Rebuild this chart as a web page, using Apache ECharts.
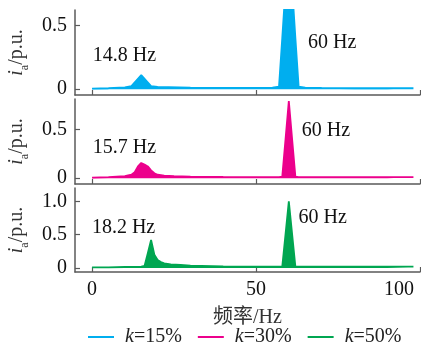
<!DOCTYPE html>
<html><head><meta charset="utf-8">
<script src="https://cdn.jsdelivr.net/npm/echarts@6/dist/echarts.min.js"></script>
<style>html,body{margin:0;padding:0;background:#fff}#c{width:421px;height:349px}</style>
</head><body><div id="c"></div>
<script>
// ---- data ----
const seriesNames = ['k=15%', 'k=30%', 'k=50%'];
const freq15 = [0, 5, 10, 12, 15, 18, 20, 30, 40, 50, 55, 57, 58, 59, 60, 61, 62, 63, 65, 70, 80, 90, 98];
const val15  = [0.005, 0.008, 0.015, 0.025, 0.11, 0.025, 0.018, 0.012, 0.01, 0.01, 0.012, 0.02, 0.4, 0.8, 1.0, 0.8, 0.4, 0.02, 0.012, 0.01, 0.008, 0.008, 0.008];
const freq30 = [0, 5, 10, 12, 13, 14, 15, 16, 17, 18, 19, 20, 22, 25, 30, 40, 50, 57, 58, 59, 60, 61, 62, 63, 70, 80, 90, 98];
const val30  = [0.005, 0.01, 0.02, 0.035, 0.06, 0.12, 0.155, 0.14, 0.12, 0.08, 0.05, 0.035, 0.025, 0.02, 0.015, 0.012, 0.01, 0.01, 0.015, 0.4, 0.79, 0.4, 0.015, 0.01, 0.01, 0.01, 0.01, 0.01];
const freq50 = [0, 5, 10, 15, 16, 17, 18, 19, 20, 21, 22, 24, 27, 30, 40, 50, 57, 58, 59, 60, 61, 62, 63, 70, 80, 90, 98];
const val50  = [0.01, 0.01, 0.015, 0.02, 0.03, 0.22, 0.42, 0.2, 0.12, 0.09, 0.07, 0.055, 0.045, 0.035, 0.025, 0.02, 0.02, 0.02, 0.51, 1.0, 0.51, 0.02, 0.02, 0.02, 0.02, 0.02, 0.02];
const xTicks = [0, 50, 100];
const yTicks1 = [0, 0.5];
const yTicks2 = [0, 0.5];
const yTicks3 = [0, 0.5, 1.0];
const annText = [['14.8 Hz', '60 Hz'], ['15.7 Hz', '60 Hz'], ['18.2 Hz', '60 Hz']];
const annX = [[9.9, 73.2], [9.9, 71.3], [9.6, 70.3]];
const annY = [[0.265, 0.36], [0.31, 0.49], [0.6, 0.75]];

// ---- chart ----
const FONT = '"Liberation Serif", "Times New Roman", "Noto Sans CJK SC", serif';
const AX = '#5a5a5a';
const colors = ['#00AEEF', '#EC008C', '#00A651'];
const freqs = [freq15, freq30, freq50];
const vals = [val15, val30, val50];
const yTicks = [yTicks1, yTicks2, yTicks3];
const yRanges = [[-0.045, 0.62], [-0.06, 0.81], [-0.06, 1.2]];
const grids = [
  {left: 75, right: 1, top: 10, height: 85, containLabel: false, outerBoundsMode: 'none'},
  {left: 75, right: 1, top: 99, height: 85, containLabel: false, outerBoundsMode: 'none'},
  {left: 75, right: 1, top: 188, height: 84, containLabel: false, outerBoundsMode: 'none'}
];
const fmtY = v => (v === 0 ? '0' : v.toFixed(1));

const xAxes = [0, 1, 2].map(i => ({
  type: 'value', gridIndex: i, min: -5.2, max: 100,
  axisLine: {show: true, onZero: false, lineStyle: {color: AX, width: 1.5}},
  axisTick: {show: true, inside: true, length: 5, customValues: xTicks, lineStyle: {color: AX, width: 1.2}},
  axisLabel: {show: i === 2, customValues: xTicks, margin: 8, fontFamily: FONT, fontSize: 20, color: '#111',
    alignMaxLabel: 'right',
    formatter: v => (v === 100 ? '{r|100}' : String(v)),
    rich: {r: {fontFamily: FONT, fontSize: 20, color: '#111', padding: [0, 6, 0, 0]}}},
  splitLine: {show: false},
  name: i === 2 ? '频率/Hz' : '', nameLocation: 'middle', nameGap: 36,
  nameTextStyle: {fontFamily: FONT, fontSize: 20, color: '#333'}
}));

const yAxes = [0, 1, 2].map(i => ({
  type: 'value', gridIndex: i, min: yRanges[i][0], max: yRanges[i][1],
  axisLine: {show: true, onZero: false, lineStyle: {color: AX, width: 1.5}},
  axisTick: {show: true, inside: true, length: 5, customValues: yTicks[i], lineStyle: {color: AX, width: 1.2}},
  axisLabel: {show: true, customValues: yTicks[i], margin: 8, fontFamily: FONT, fontSize: 20, color: '#111', formatter: fmtY},
  splitLine: {show: false},
  name: '{i|i}{s|a}{n|/p.u.}', nameLocation: 'middle', nameGap: 45, nameRotate: 90,
  nameTextStyle: {rich: {
    i: {fontFamily: FONT, fontSize: 20, fontStyle: 'italic', color: '#333', verticalAlign: 'bottom', lineHeight: 24},
    s: {fontFamily: FONT, fontSize: 12, color: '#333', verticalAlign: 'bottom', lineHeight: 24, padding: [0, 0, -4, 0]},
    n: {fontFamily: FONT, fontSize: 20, color: '#333', verticalAlign: 'bottom', lineHeight: 24}
  }}
}));

const series = [0, 1, 2].map(i => ({
  name: seriesNames[i], type: 'line', xAxisIndex: i, yAxisIndex: i,
  data: freqs[i].map((f, j) => [f, vals[i][j]]),
  showSymbol: false, symbol: 'none', clip: true, animation: false,
  lineStyle: {color: colors[i], width: 1.8},
  itemStyle: {color: colors[i]},
  areaStyle: {color: colors[i], opacity: 1},
  markPoint: {
    symbol: 'circle', symbolSize: 0, animation: false,
    label: {show: true, position: 'inside', fontFamily: FONT, fontSize: 20, color: '#111', formatter: p => p.name},
    data: annText[i].map((t, k) => ({name: t, coord: [annX[i][k], annY[i][k]]}))
  }
}));

const chart = echarts.init(document.getElementById('c'), null, {renderer: 'canvas'});
chart.setOption({
  animation: false,
  grid: grids,
  xAxis: xAxes,
  yAxis: yAxes,
  series: series,
  legend: {
    top: 327, left: 88, itemWidth: 26, itemHeight: 2, itemGap: 16, icon: 'rect', padding: 0,
    data: seriesNames,
    formatter: n => '{i|k}{t|' + n.slice(1) + '}',
    textStyle: {rich: {
      i: {fontFamily: FONT, fontSize: 20, fontStyle: 'italic', color: '#222', padding: [0, 0, 0, 6]},
      t: {fontFamily: FONT, fontSize: 20, color: '#222'}
    }}
  }
});
</script></body></html>
